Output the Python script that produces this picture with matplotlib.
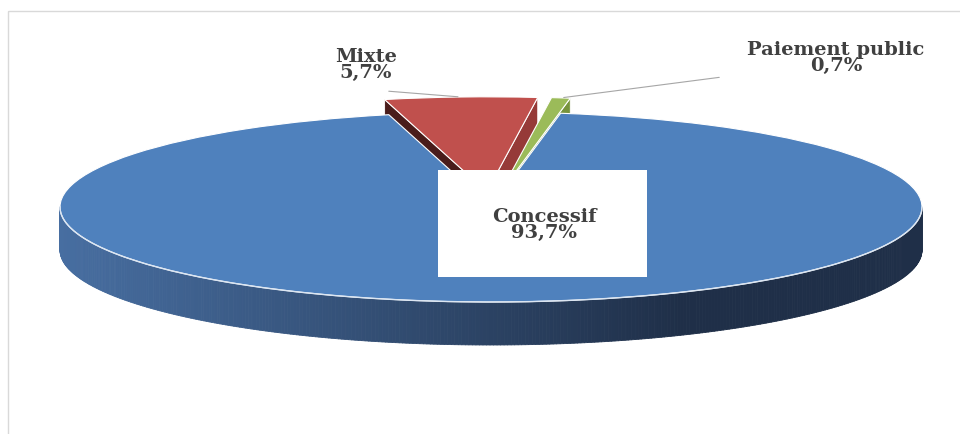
import numpy as np
import matplotlib
matplotlib.use('Agg')
import matplotlib.pyplot as plt
from matplotlib.patches import Polygon, Rectangle
from matplotlib.collections import PolyCollection
from matplotlib.colors import to_rgb
from matplotlib.transforms import Affine2D

# Data
categories = ['Concessif', 'Mixte', 'Paiement public']
shares = [93.7, 5.7, 0.7]
share_labels = ['93,7%', '5,7%', '0,7%']
explode = [0.0, 0.16, 0.16]
top_colors = ['#4f81bd', '#c0504d', '#9bbb59']
face_colors = {'Mixte': ('#4a1c1b', '#963a38'), 'Paiement public': ('#5f7a2e', '#77933c')}

# Layout of the flattened pie (pixels)
cx, cy, rx, ry, depth = 491, 207, 431, 95, 43

fig = plt.figure(figsize=(9.6, 4.34), dpi=100)
ax = fig.add_axes([0, 0, 1, 1])

wedges, _ = ax.pie(shares, startangle=80.7, counterclock=False, explode=explode,
                   colors=top_colors, radius=1, center=(0, 0),
                   wedgeprops=dict(edgecolor='white', linewidth=0.8))
ax.set_aspect('auto')
ax.set_xlim(0, 960)
ax.set_ylim(434, 0)
ax.axis('off')

tr = Affine2D().scale(rx, -ry).translate(cx, cy) + ax.transData


def proj(x, y, down=0):
    return (cx + rx * x, cy - ry * y + down)


# Blue (front) wedge: outer side with left-to-right shading
blue = wedges[0]
th = np.radians(np.linspace(blue.theta1, blue.theta2, 721))
th = th[np.sin(th) < 0]
th = th[np.argsort(np.cos(th))]
c_left, c_right = np.array(to_rgb('#476ea1')), np.array(to_rgb('#1f2f48'))
polys, cols = [], []
for a, b in zip(th[:-1], th[1:]):
    x0, y0 = np.cos(a), np.sin(a)
    x1, y1 = np.cos(b), np.sin(b)
    polys.append([proj(x0, y0), proj(x1, y1), proj(x1, y1, depth), proj(x0, y0, depth)])
    t = min((x0 + 1) / 2 / 0.72, 1.0)
    cols.append(c_left * (1 - t) + c_right * t)
side = PolyCollection(polys, facecolors=cols, edgecolors=cols, linewidths=0.6, zorder=2)
ax.add_collection(side)

# Exploded wedges: radial side faces
for w, name in zip(wedges[1:], categories[1:]):
    ox, oy = w.center
    dark, light = face_colors[name]
    for ang, col, vis in [(w.theta2, dark, np.cos(np.radians(w.theta2)) < 0),
                          (w.theta1, light, np.cos(np.radians(w.theta1)) > 0)]:
        if not vis:
            continue
        a = np.radians(ang)
        rim = (ox + np.cos(a), oy + np.sin(a))
        quad = [proj(ox, oy), proj(*rim), proj(*rim, down=depth), proj(ox, oy, down=depth)]
        ax.add_patch(Polygon(quad, closed=True, facecolor=col, edgecolor='white',
                             linewidth=0.6, zorder=1))

for i, w in enumerate(wedges):
    w.set_transform(tr)
    w.set_zorder(3 if i == 0 else 1.5)

# Highlight along the front rim
tf = np.radians(np.linspace(180, 360, 300))
ax.plot(cx + rx * np.cos(tf), cy - ry * np.sin(tf), color='#dce6f2', lw=1.0, zorder=3.5)

# Chart border
ax.add_patch(Rectangle((8, 11), 970, 440, fill=False, edgecolor='#d9d9d9', lw=1, zorder=0))

# Labels
font = dict(family='DejaVu Serif', fontweight='bold', color='#404040', fontsize=14,
            ha='center', va='center', linespacing=0.9)

ax.add_patch(Rectangle((438, 170), 209, 107, facecolor='white', edgecolor='none', zorder=5))
ax.text(544, 225, categories[0] + '\n' + share_labels[0], zorder=6, **font)

ax.text(366, 65, categories[1] + '\n' + share_labels[1], zorder=6, **font)
ax.text(836, 58, categories[2] + '\n' + share_labels[2], zorder=6, **font)

# Leader lines to the exploded wedges
for w, start in zip(wedges[1:], [(386, 91), (722, 77)]):
    mid = np.radians((w.theta1 + w.theta2) / 2)
    ox, oy = w.center
    end = proj(ox + np.cos(mid), oy + np.sin(mid))
    ax.annotate('', xy=end, xytext=start,
                arrowprops=dict(arrowstyle='-', color='#a6a6a6', lw=0.8), zorder=4)

plt.savefig('out.png', dpi=100)
